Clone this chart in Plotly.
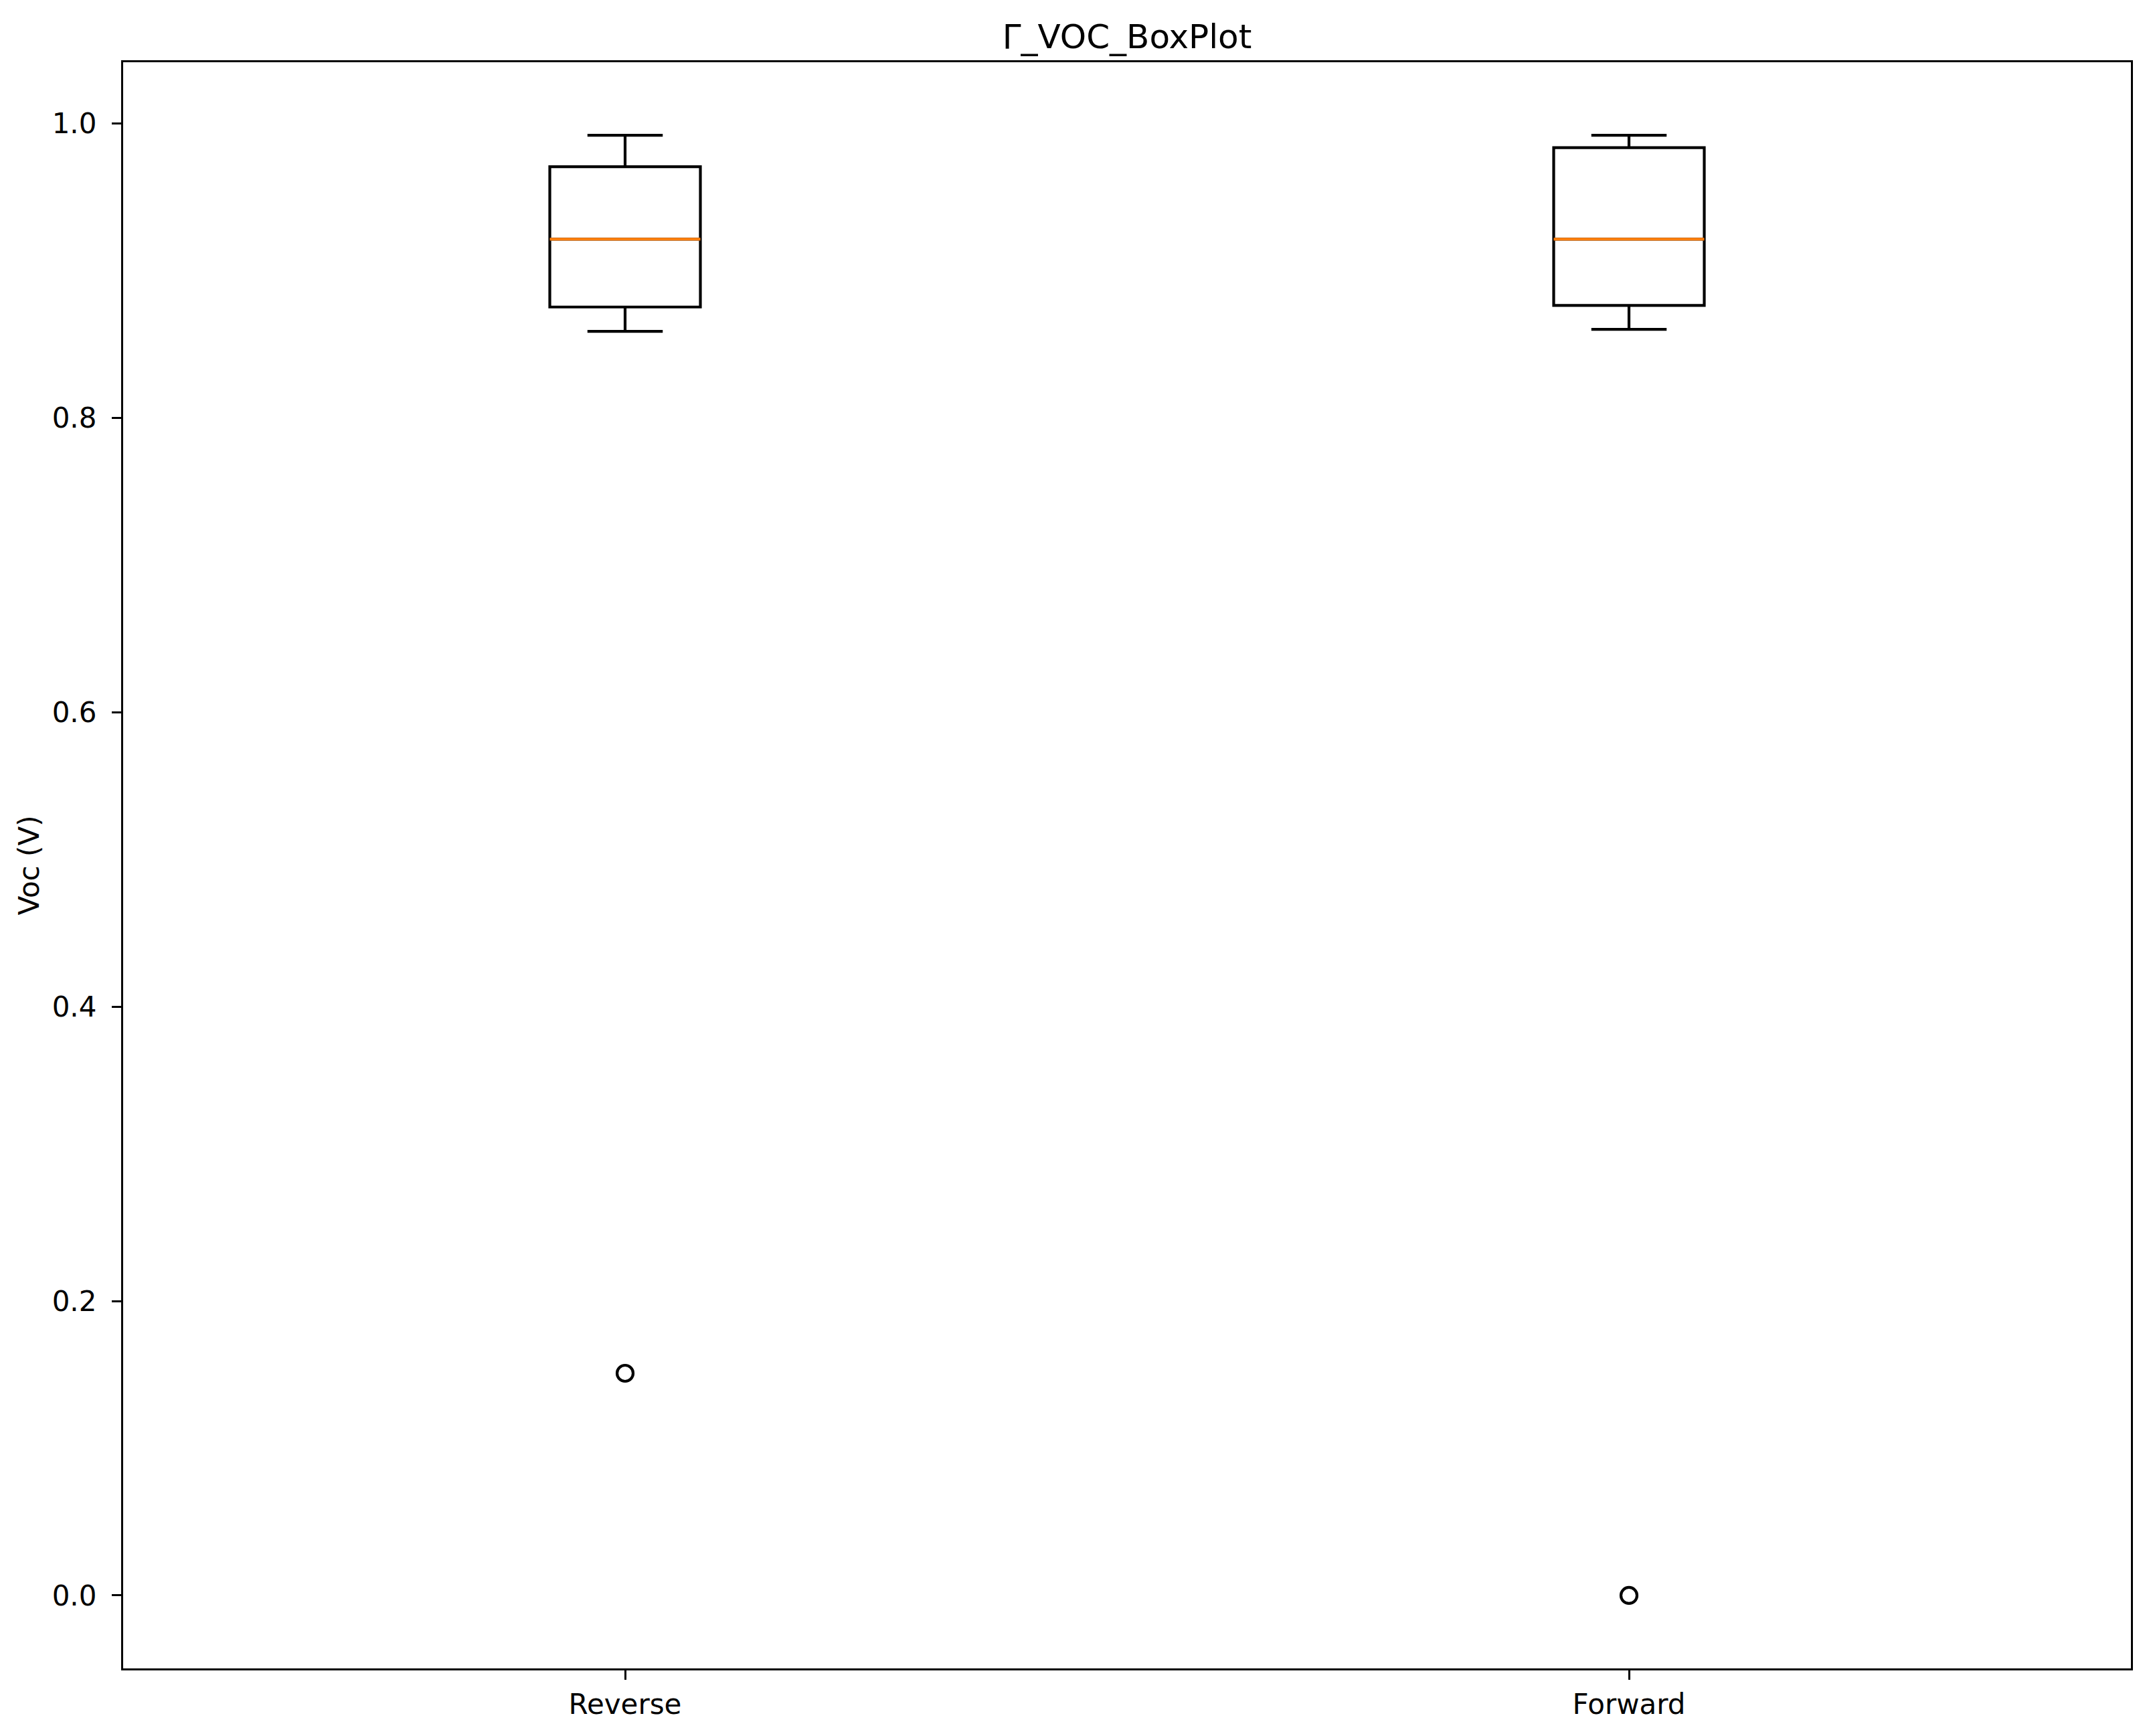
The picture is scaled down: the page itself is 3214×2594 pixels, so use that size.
import plotly.graph_objects as go

categories = ["Reverse", "Forward"]
positions = [1, 2]
q1 = [0.8753, 0.8764]
median = [0.9214, 0.9214]
q3 = [0.9706, 0.9836]
lower_whisker = [0.8588, 0.8601]
upper_whisker = [0.9920, 0.9920]
outlier_x = [1, 2]
outlier_y = [0.1509, 0.0]

box_width = 0.15
W, H = 3214, 2594
FONT = "DejaVu Sans"

fig = go.Figure()
fig.add_trace(go.Box(
    x=positions, q1=q1, median=median, q3=q3,
    lowerfence=lower_whisker, upperfence=upper_whisker,
    width=box_width, whiskerwidth=0.5,
    line=dict(color="black", width=4.2), fillcolor="white",
    boxpoints=False, showlegend=False, hoverinfo="skip",
))
for p, m in zip(positions, median):
    fig.add_trace(go.Scatter(
        x=[p - box_width / 2, p + box_width / 2], y=[m, m], mode="lines",
        line=dict(color="#ff7f0e", width=4.2), showlegend=False, hoverinfo="skip",
    ))
fig.add_trace(go.Scatter(
    x=outlier_x, y=outlier_y, mode="markers",
    marker=dict(symbol="circle-open", size=24, color="black", line=dict(width=4.2, color="black")),
    showlegend=False, hoverinfo="skip",
))

fig.update_layout(
    width=W, height=H,
    margin=dict(l=184, r=30, t=93, b=101),
    plot_bgcolor="white", paper_bgcolor="white",
    font=dict(family=FONT, size=42, color="black"),
    title=dict(text="Γ_VOC_BoxPlot", x=0.5, xref="paper", xanchor="center",
               y=1, yref="paper", yanchor="bottom", pad=dict(b=21),
               font=dict(family=FONT, size=50, color="black")),
)
fig.update_xaxes(
    range=[0.5, 2.5], tickvals=positions, ticktext=categories,
    showline=True, linecolor="black", linewidth=3.3, mirror=True,
    ticks="outside", ticklen=14, tickwidth=3.3, tickcolor="black",
    showgrid=False, zeroline=False, ticklabelstandoff=0,
    tickfont=dict(family=FONT, size=42, color="black"),
)
fig.update_yaxes(
    range=[-0.0496, 1.0416], tickvals=[0, 0.2, 0.4, 0.6, 0.8, 1.0], tickformat=".1f",
    showline=True, linecolor="black", linewidth=3.3, mirror=True,
    ticks="outside", ticklen=14, tickwidth=3.3, tickcolor="black",
    showgrid=False, zeroline=False, ticklabelstandoff=14,
    tickfont=dict(family=FONT, size=42, color="black"),
    title=dict(text="Voc (V)", font=dict(family=FONT, size=42, color="black"), standoff=6),
)

fig.write_html("out.html")
